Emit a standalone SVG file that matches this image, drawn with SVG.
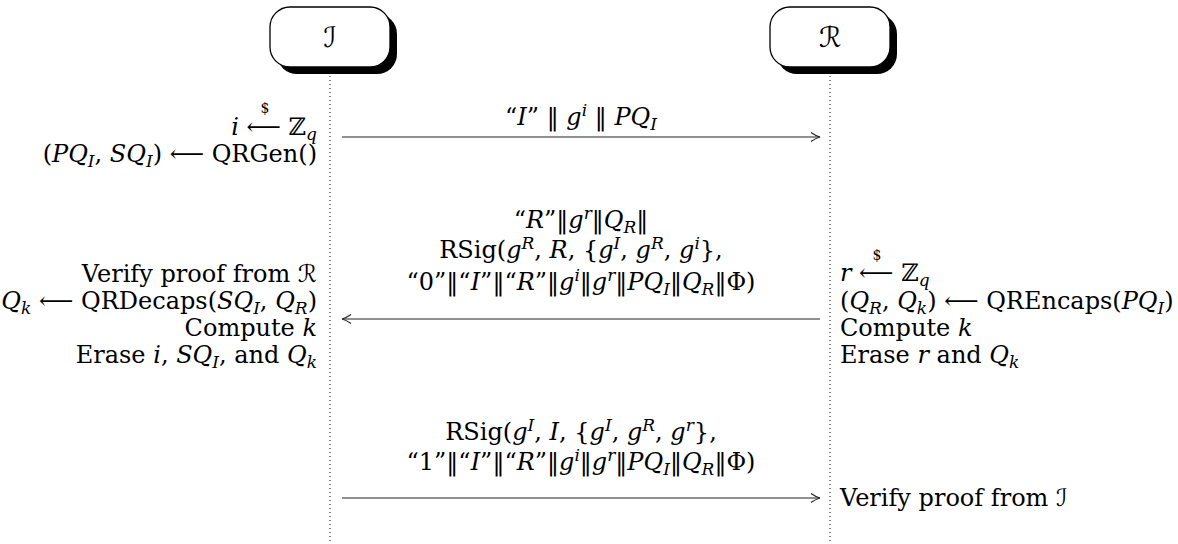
<svg xmlns="http://www.w3.org/2000/svg" width="1178" height="544" viewBox="0 0 1178 544">
  <style>
    .t{font-family:"DejaVu Serif","DejaVu Sans",serif;font-size:24px;fill:#000}
    .i{font-style:italic}
    .b{font-size:17px;baseline-shift:-5px}
    .p{font-size:17px;baseline-shift:9px}
    .sc{font-family:"DejaVu Sans","Noto Sans",sans-serif;font-style:normal}
    .dollar{font-family:"DejaVu Serif",serif;font-size:14px;fill:#000}
    .box{fill:#fff;stroke:#000;stroke-width:1.3}
    .shadow{fill:#000}
    .life{stroke:#111;stroke-width:1;stroke-dasharray:1 3}
    .msg{stroke:#222;stroke-width:1.2;fill:none}
    .head{stroke:#222;stroke-width:1.1;fill:none}
    .lbl{font-size:28px;fill:#000}
  </style>
  <defs>
    <marker id="to" viewBox="-11 -6 13 12" refX="0" refY="0" markerWidth="13" markerHeight="12" markerUnits="userSpaceOnUse" orient="auto">
      <path class="head" d="M-9,-4.5 Q-4,-1 0,0 Q-4,1 -9,4.5"/>
    </marker>
  </defs>

  <!-- Initiator -->
  <g id="initiator">
    <rect class="shadow" x="277" y="14" width="120" height="60" rx="20"/>
    <rect class="box" x="270" y="7" width="120" height="60" rx="20"/>
    <text class="lbl sc" x="330" y="47" text-anchor="middle">ℐ</text>
    <line class="life" x1="330" y1="76" x2="330" y2="544"/>
  </g>

  <!-- Responder -->
  <g id="responder">
    <rect class="shadow" x="777" y="14" width="120" height="60" rx="20"/>
    <rect class="box" x="770" y="7" width="120" height="60" rx="20"/>
    <text class="lbl sc" x="830" y="47" text-anchor="middle">ℛ</text>
    <line class="life" x1="830" y1="76" x2="830" y2="544"/>
  </g>

  <!-- Initiator computations -->
  <g id="initiator-steps" class="t" text-anchor="end">
    <text x="317" y="135"><tspan class="i">i</tspan> ⟵ ℤ<tspan class="b i">q</tspan></text>
    <text class="dollar" x="265" y="113" text-anchor="middle">$</text>
    <text x="317" y="162">(<tspan class="i">PQ</tspan><tspan class="b i">I</tspan>, <tspan class="i">SQ</tspan><tspan class="b i">I</tspan>) ⟵ QRGen()</text>
    <text x="317" y="282">Verify proof from <tspan class="sc">ℛ</tspan></text>
    <text x="317" y="309"><tspan class="i">Q</tspan><tspan class="b i">k</tspan> ⟵ QRDecaps(<tspan class="i">SQ</tspan><tspan class="b i">I</tspan>, <tspan class="i">Q</tspan><tspan class="b i">R</tspan>)</text>
    <text x="317" y="336">Compute <tspan class="i">k</tspan></text>
    <text x="317" y="363">Erase <tspan class="i">i</tspan>, <tspan class="i">SQ</tspan><tspan class="b i">I</tspan>, and <tspan class="i">Q</tspan><tspan class="b i">k</tspan></text>
  </g>

  <!-- Responder computations -->
  <g id="responder-steps" class="t">
    <text x="840" y="281"><tspan class="i">r</tspan> ⟵ ℤ<tspan class="b i">q</tspan></text>
    <text class="dollar" x="877" y="260" text-anchor="middle">$</text>
    <text x="840" y="309">(<tspan class="i">Q</tspan><tspan class="b i">R</tspan>, <tspan class="i">Q</tspan><tspan class="b i">k</tspan>) ⟵ QREncaps(<tspan class="i">PQ</tspan><tspan class="b i">I</tspan>)</text>
    <text x="840" y="336">Compute <tspan class="i">k</tspan></text>
    <text x="840" y="363">Erase <tspan class="i">r</tspan> and <tspan class="i">Q</tspan><tspan class="b i">k</tspan></text>
    <text x="840" y="506">Verify proof from <tspan class="sc">ℐ</tspan></text>
  </g>

  <!-- Messages -->
  <g id="messages">
    <line class="msg" x1="342" y1="137" x2="820" y2="137" marker-end="url(#to)"/>
    <line class="msg" x1="820" y1="319" x2="342" y2="319" marker-end="url(#to)"/>
    <line class="msg" x1="342" y1="498" x2="820" y2="498" marker-end="url(#to)"/>
    <g class="t" text-anchor="middle">
      <text x="581" y="125">“<tspan class="i">I</tspan>” ‖ <tspan class="i">g</tspan><tspan class="p i">i</tspan> ‖ <tspan class="i">PQ</tspan><tspan class="b i">I</tspan></text>
      <text x="581" y="228">“<tspan class="i">R</tspan>”‖<tspan class="i">g</tspan><tspan class="p i">r</tspan>‖<tspan class="i">Q</tspan><tspan class="b i">R</tspan>‖</text>
      <text x="581" y="258">RSig(<tspan class="i">g</tspan><tspan class="p i">R</tspan>, <tspan class="i">R</tspan>, {<tspan class="i">g</tspan><tspan class="p i">I</tspan>, <tspan class="i">g</tspan><tspan class="p i">R</tspan>, <tspan class="i">g</tspan><tspan class="p i">i</tspan>},</text>
      <text x="581" y="290">“0”‖“<tspan class="i">I</tspan>”‖“<tspan class="i">R</tspan>”‖<tspan class="i">g</tspan><tspan class="p i">i</tspan>‖<tspan class="i">g</tspan><tspan class="p i">r</tspan>‖<tspan class="i">PQ</tspan><tspan class="b i">I</tspan>‖<tspan class="i">Q</tspan><tspan class="b i">R</tspan>‖Φ)</text>
      <text x="581" y="440">RSig(<tspan class="i">g</tspan><tspan class="p i">I</tspan>, <tspan class="i">I</tspan>, {<tspan class="i">g</tspan><tspan class="p i">I</tspan>, <tspan class="i">g</tspan><tspan class="p i">R</tspan>, <tspan class="i">g</tspan><tspan class="p i">r</tspan>},</text>
      <text x="581" y="470">“1”‖“<tspan class="i">I</tspan>”‖“<tspan class="i">R</tspan>”‖<tspan class="i">g</tspan><tspan class="p i">i</tspan>‖<tspan class="i">g</tspan><tspan class="p i">r</tspan>‖<tspan class="i">PQ</tspan><tspan class="b i">I</tspan>‖<tspan class="i">Q</tspan><tspan class="b i">R</tspan>‖Φ)</text>
    </g>
  </g>
</svg>
